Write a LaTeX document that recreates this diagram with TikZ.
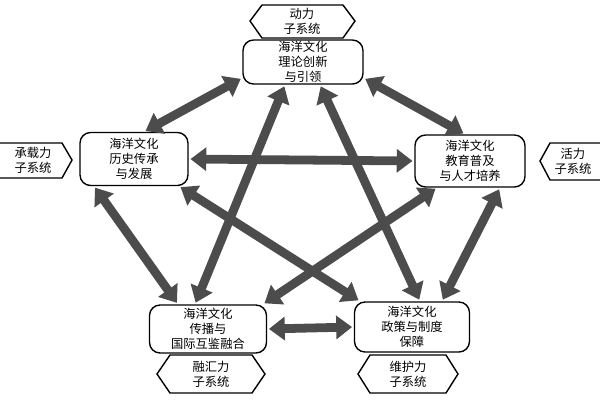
\documentclass[tikz,border=0pt]{standalone}
\usepackage{fontspec}
\newfontfamily\cjk{Noto Sans CJK SC}
\usetikzlibrary{shapes.geometric,arrows.meta,calc}
\begin{document}
\begin{tikzpicture}[x=0.02cm,y=-0.02cm,
  box/.style={draw,thick,rounded corners=6pt,align=center,font=\cjk\fontsize{7}{8.5}\selectfont,inner sep=0pt},
  hexa/.style={draw,thick,regular polygon,regular polygon sides=6,shape border rotate=90,align=center,font=\cjk\fontsize{7}{8.5}\selectfont,inner sep=0pt},
  arr/.style={draw=gray!60!black,line width=5pt,{Triangle[length=9pt,width=13pt]}-{Triangle[length=9pt,width=13pt]},fill=gray!60!black,shorten <=1pt,shorten >=1pt}]
\useasboundingbox (0,0) rectangle (600,400);
\node[box,minimum width=2.4cm,minimum height=0.88cm] (top) at (303,62) {海洋文化\\理论创新\\与引领};
\node[box,minimum width=2.16cm,minimum height=1.06cm] (lf) at (134,159) {海洋文化\\历史传承\\与发展};
\node[box,minimum width=2.2cm,minimum height=1.04cm] (rt) at (470,161) {海洋文化\\教育普及\\与人才培养};
\node[box,minimum width=2.34cm,minimum height=0.96cm] (bl) at (208,329) {海洋文化\\传播与\\国际互鉴融合};
\node[box,minimum width=2.3cm,minimum height=1.0cm] (br) at (412,327) {海洋文化\\政策与制度\\保障};
\tikzset{hx/.style={draw,thick,font=\cjk\fontsize{7}{8.5}\selectfont,align=center}}
\node[font=\cjk\fontsize{7}{8.5}\selectfont,align=center] (h1) at (302,21) {动力\\子系统};
\draw[thick] (250,21)--(262,5)--(343,5)--(355,21)--(343,38)--(262,38)--cycle;
\node[font=\cjk\fontsize{7}{8.5}\selectfont,align=center] (h2) at (33,160) {承载力\\子系统};
\draw[thick] (0,143)--(62,143)--(72,160)--(62,178)--(0,178);
\node[font=\cjk\fontsize{7}{8.5}\selectfont,align=center] (h3) at (573,161) {活力\\子系统};
\draw[thick] (600,143)--(550,143)--(540,161)--(550,180)--(600,180);
\node[font=\cjk\fontsize{7}{8.5}\selectfont,align=center] (h4) at (211,374) {融汇力\\子系统};
\draw[thick] (157,374)--(170,355)--(252,355)--(265,374)--(252,393)--(170,393)--cycle;
\node[font=\cjk\fontsize{7}{8.5}\selectfont,align=center] (h5) at (408,374) {维护力\\子系统};
\draw[thick] (358,374)--(370,355)--(446,355)--(458,374)--(446,393)--(370,393)--cycle;
% arrows
\draw[arr] ($(top.west)+(0,16)$) -- ($(lf.north)+(10,0)$);
\draw[arr] ($(top.east)+(0,16)$) -- ($(rt.north)+(-5,0)$);
\draw[arr] (lf.east) -- (rt.west);
\draw[arr] (bl.east) -- (br.west);
\draw[arr] ($(top.south)+(-18,0)$) -- ($(bl.north)+(-13,0)$);
\draw[arr] ($(top.south)+(17,0)$) -- ($(br.north)+(8,0)$);
\draw[arr] ($(lf.south)+(-40,0)$) -- ($(bl.north)+(-30,0)$);
\draw[arr] ($(rt.south)+(30,0)$) -- ($(br.north)+(30,0)$);
\draw[arr] ($(lf.south)+(45,0)$) -- ($(br.north)+(-52,0)$);
\draw[arr] ($(rt.south)+(-33,0)$) -- ($(bl.north)+(55,0)$);
\end{tikzpicture}
\end{document}
